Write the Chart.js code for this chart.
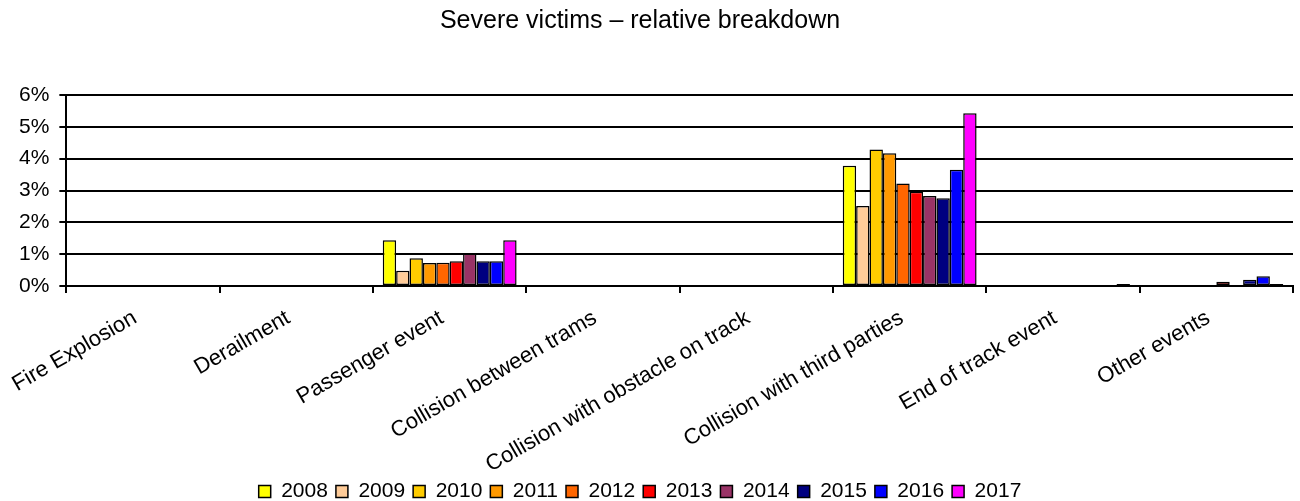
<!DOCTYPE html>
<html>
<head>
<meta charset="utf-8">
<script src="https://cdn.jsdelivr.net/npm/chart.js@4"></script>
<style>
	html, body { margin: 0; padding: 0; background: #fff; }
	.canvas-container { width: 1300px; height: 501px; }
</style>
</head>
<body>
<div class="canvas-container">
	<canvas id="chart"></canvas>
</div>
<script>
const categories = [
	"Fire Explosion",
	"Derailment",
	"Passenger event",
	"Collision between trams",
	"Collision with obstacle on track",
	"Collision with third parties",
	"End of track event",
	"Other events",
];
const yTicks = [0, 1, 2, 3, 4, 5, 6];

// percent values, one array per year
const v2008 = [0, 0, 1.44, 0, 0, 3.78, 0, 0];
const v2009 = [0, 0, 0.48, 0, 0, 2.51, 0, 0];
const v2010 = [0, 0, 0.87, 0, 0, 4.29, 0, 0];
const v2011 = [0, 0, 0.72, 0, 0, 4.17, 0, 0];
const v2012 = [0, 0, 0.73, 0, 0, 3.22, 0, 0];
const v2013 = [0, 0, 0.78, 0, 0, 2.96, 0, 0.13];
const v2014 = [0, 0, 1.02, 0, 0, 2.83, 0, 0];
const v2015 = [0, 0, 0.78, 0, 0, 2.76, 0, 0.2];
const v2016 = [0, 0, 0.78, 0, 0, 3.65, 0, 0.31];
const v2017 = [0, 0, 1.44, 0, 0, 5.43, 0.06, 0.06];

const years = ["2008", "2009", "2010", "2011", "2012", "2013", "2014", "2015", "2016", "2017"];
const yearValues = [v2008, v2009, v2010, v2011, v2012, v2013, v2014, v2015, v2016, v2017];
const yearColors = ["#FFFF00", "#FFCC99", "#FFCC00", "#FF9900", "#FF6600", "#FF0000", "#993366", "#000080", "#0000FF", "#FF00FF"];

const fontFamily = "'Liberation Sans', Arial, sans-serif";

// title and legend sit a bit left of the canvas centre in the original
const shiftBlocks = {
	id: "shiftBlocks",
	afterLayout(chart) {
		const dx = -11;
		[chart.titleBlock, chart.legend].forEach((b) => {
			if (!b) return;
			b.left += dx;
			b.right += dx;
		});
	},
};

const ctx = document.getElementById("chart").getContext("2d");
new Chart(ctx, {
	type: "bar",
	data: {
		labels: categories,
		datasets: years.map((y, i) => ({
			label: y,
			data: yearValues[i],
			backgroundColor: yearColors[i],
			borderColor: "#000",
			borderWidth: 1.5,
			borderSkipped: false,
			categoryPercentage: 0.873,
			barPercentage: 1.0,
		})),
	},
	plugins: [shiftBlocks],
	options: {
		responsive: true,
		maintainAspectRatio: false,
		animation: false,
		layout: { padding: { left: 9, right: 7, top: 0, bottom: -11 } },
		plugins: {
			title: {
				display: true,
				text: "Severe victims \u2013 relative breakdown",
				color: "#000",
				font: { size: 25, family: fontFamily, weight: "normal" },
				padding: { top: 6, bottom: 59 },
			},
			legend: {
				position: "bottom",
				onClick: null,
				labels: {
					color: "#000",
					font: { size: 21, family: fontFamily },
					boxWidth: 12,
					boxHeight: 12,
					padding: 8,
				},
			},
			tooltip: { enabled: false },
		},
		scales: {
			x: {
				afterFit: (axis) => {
					axis.height = 187;
				},
				grid: {
					offset: true,
					drawOnChartArea: false,
					drawTicks: true,
					tickLength: 7,
					color: "#000",
					lineWidth: 2,
				},
				border: { color: "#000", width: 2 },
				ticks: {
					color: "#000",
					font: { size: 22, family: fontFamily },
					minRotation: 30,
					maxRotation: 30,
					autoSkip: false,
					padding: 12,
					labelOffset: -8,
				},
			},
			y: {
				min: 0,
				max: 6,
				afterBuildTicks: (axis) => {
					axis.ticks = yTicks.map((v) => ({ value: v }));
				},
				grid: {
					color: "#000",
					lineWidth: 2,
					tickLength: 7,
				},
				border: { color: "#000", width: 2 },
				ticks: {
					color: "#000",
					font: { size: 21, family: fontFamily },
					padding: 10,
					callback: (v) => v + "%",
				},
			},
		},
	},
});
</script>
</body>
</html>
